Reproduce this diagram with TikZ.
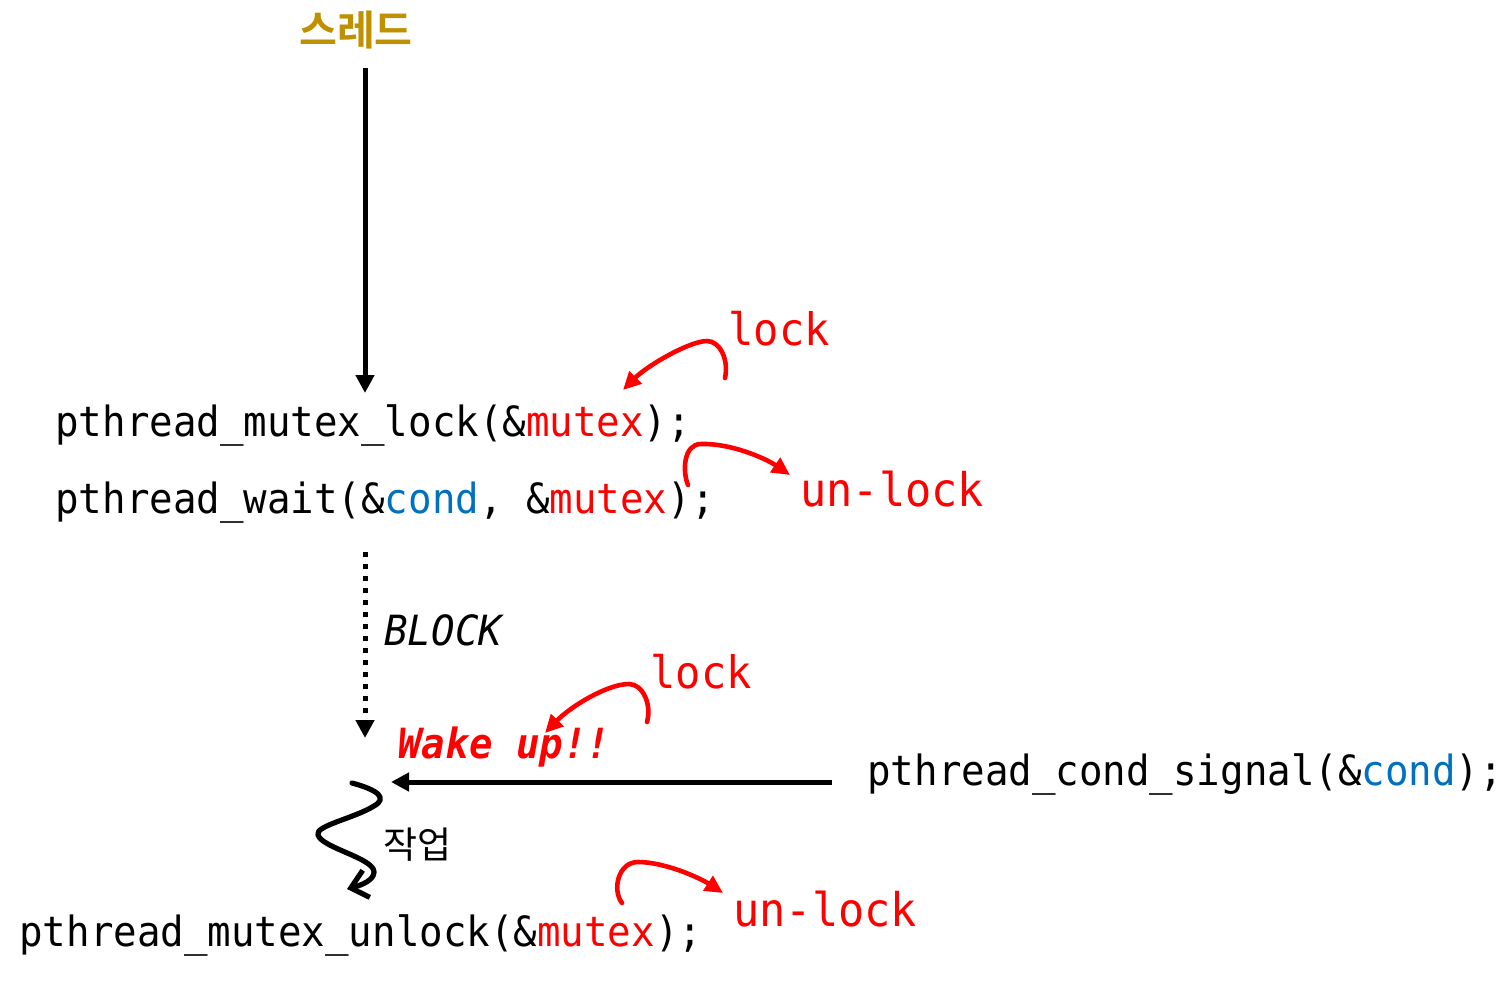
\documentclass[tikz,border=0pt]{standalone}
\usepackage{fontspec}
\usetikzlibrary{arrows.meta}
\newfontfamily\code{DejaVu Sans Mono}[FakeStretch=0.94]
\newfontfamily\kr{Noto Sans CJK KR}
\newfontfamily\krb{Noto Sans CJK KR Bold}
\definecolor{gold}{HTML}{BF9000}
\definecolor{cblue}{HTML}{0070C0}
\definecolor{cred}{HTML}{FF0000}
\begin{document}
\begin{tikzpicture}[x=0.5pt,y=-0.5pt,
  codetxt/.style={anchor=base west, inner sep=0pt, font=\code\fontsize{20.8pt}{24pt}\selectfont},
  redlbl/.style={anchor=base west, inner sep=0pt, text=cred, font=\code\fontsize{22.4pt}{26pt}\selectfont},
  redlblb/.style={anchor=base west, inner sep=0pt, text=cred, font=\code\fontsize{23.2pt}{27pt}\selectfont},
  blkarr/.style={line width=2.5pt, -{Triangle[length=9pt,width=9pt]}},
  dotarr/.style={line width=2.5pt, dash pattern=on 2.5pt off 3.5pt, -{Triangle[length=9pt,width=9pt]}},
  redarr/.style={cred, line width=2.3pt, line cap=round, -{Triangle[length=9pt,width=8.5pt]}},
  squig/.style={line width=2.6pt, line cap=round, line join=round, -{Straight Barb[length=8pt,width=14pt]}}
]
\useasboundingbox (0,0) rectangle (1504,980);

% title
\node[font=\krb\fontsize{20.6pt}{24pt}\selectfont, text=gold, inner sep=0pt] (title) at (356,30) {스레드};

% code lines
\node[codetxt] (l1) at (55,436) {pthread\_mutex\_lock(\&\textcolor{cred}{mutex});};
\node[codetxt] (l2) at (55,513) {pthread\_wait(\&\textcolor{cblue}{cond}, \&\textcolor{cred}{mutex});};
\node[codetxt] (l3) at (19,946) {pthread\_mutex\_unlock(\&\textcolor{cred}{mutex});};
\node[codetxt] (sig) at (867,785) {pthread\_cond\_signal(\&\textcolor{cblue}{cond});};

\node[codetxt, font=\code\itshape\fontsize{20.8pt}{24pt}\selectfont] (block) at (384,645) {BLOCK};
\node[codetxt, text=cred, font=\code\bfseries\itshape\fontsize{20.8pt}{24pt}\selectfont] (wake) at (398,758) {Wake up!!};

% red labels
\node[redlbl] (lockA) at (728,345) {lock};
\node[redlblb] (unlockA) at (800,506) {un-lock};
\node[redlbl] (lockB) at (650,688) {lock};
\node[redlblb] (unlockB) at (733,926) {un-lock};

% work label
\node[font=\kr\fontsize{18.5pt}{22pt}\selectfont, anchor=west, inner sep=0pt] (work) at (383,845) {작업};

% connectors
\coordinate (v0) at (365,68);
\coordinate (v1) at (365,393);
\draw[blkarr] (v0) -- (v1);

\coordinate (d0) at (365,552);
\coordinate (d1) at (365,738);
\draw[dotarr] (d0) -- (d1);

\coordinate (h0) at (832,782);
\coordinate (h1) at (391,782);
\draw[blkarr] (h0) -- (h1);

% red curved arrows
\coordinate (r1s) at (725,378);
\coordinate (r1m) at (707,341);
\coordinate (r1e) at (623,390);
\draw[redarr] (r1s) .. controls (729,360) and (720,341) .. (r1m) .. controls (690,341) and (648,365) .. (r1e);

\coordinate (r2s) at (688,485);
\coordinate (r2m) at (701,444);
\coordinate (r2e) at (790,475);
\draw[redarr] (r2s) .. controls (682,470) and (684,444) .. (r2m) .. controls (730,443) and (765,458) .. (r2e);

\coordinate (r3s) at (647,722);
\coordinate (r3m) at (629,684);
\coordinate (r3e) at (545,733);
\draw[redarr] (r3s) .. controls (652,705) and (643,684) .. (r3m) .. controls (607,684) and (570,707) .. (r3e);

\coordinate (r4s) at (622,903);
\coordinate (r4m) at (638,862);
\coordinate (r4e) at (723,893);
\draw[redarr] (r4s) .. controls (612,890) and (618,862) .. (r4m) .. controls (665,862) and (700,878) .. (r4e);

% squiggle
\coordinate (s0) at (352,783);
\coordinate (s1) at (374,806);
\coordinate (s2) at (318,835);
\coordinate (s3) at (374,872);
\coordinate (s4) at (347,889);
\draw[squig] (s0) .. controls (378,790) and (388,798) .. (s1) .. controls (355,818) and (314,826) .. (s2) .. controls (322,848) and (374,858) .. (s3) .. controls (374,880) and (362,885) .. (s4);
\end{tikzpicture}
\end{document}
